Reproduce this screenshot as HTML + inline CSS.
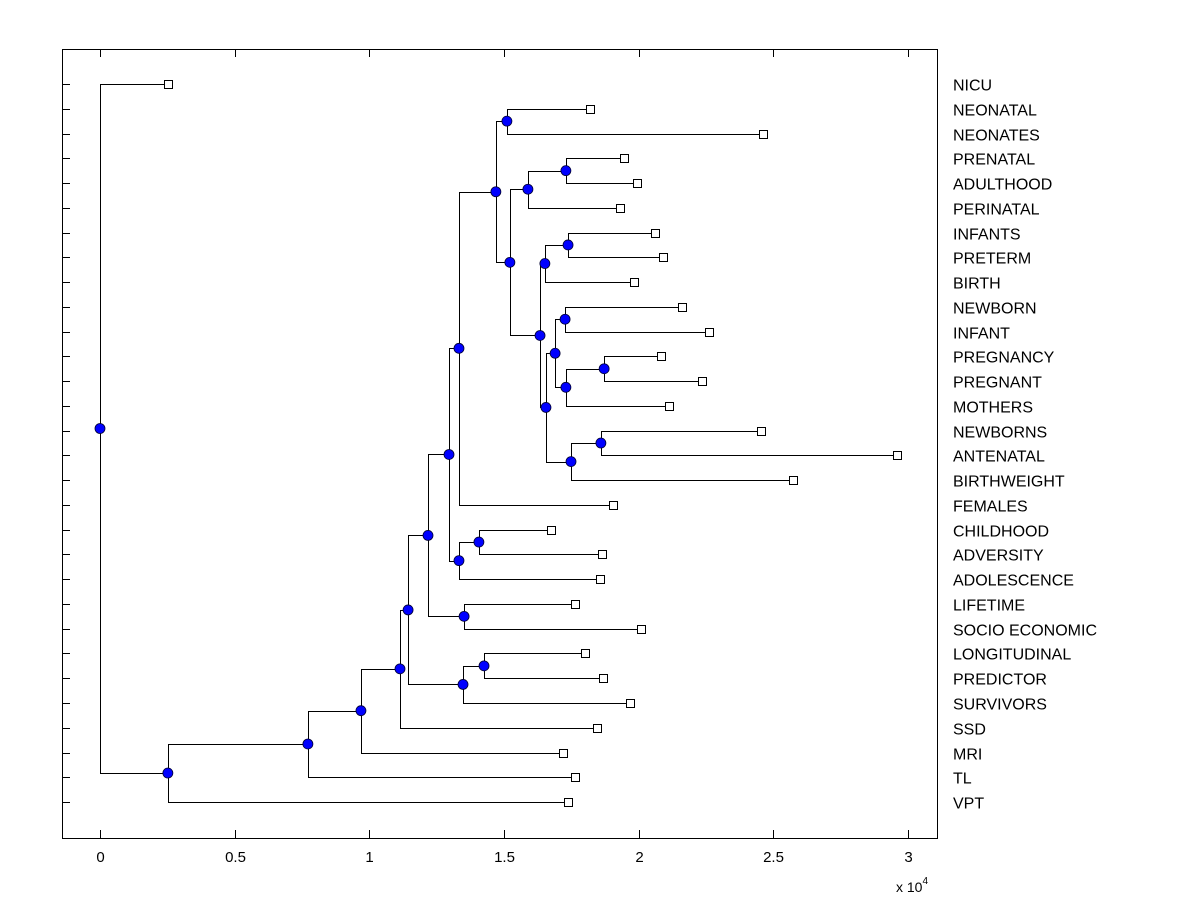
<!DOCTYPE html>
<html><head><meta charset="utf-8"><style>
body{margin:0;background:#fff}
svg{display:block;font-family:"Liberation Sans",Arial,sans-serif}
</style></head><body>
<svg id="chart" width="1200" height="900" xmlns="http://www.w3.org/2000/svg">
<rect x="0" y="0" width="1200" height="900" fill="#fff"/>
<g id="plot"></g>
<text x="896" y="892" font-size="14">x 10<tspan dy="-8" font-size="10">4</tspan></text>
</svg>
<script>
const leafLabels = ["NICU","NEONATAL","NEONATES","PRENATAL","ADULTHOOD","PERINATAL","INFANTS","PRETERM","BIRTH","NEWBORN","INFANT","PREGNANCY","PREGNANT","MOTHERS","NEWBORNS","ANTENATAL","BIRTHWEIGHT","FEMALES","CHILDHOOD","ADVERSITY","ADOLESCENCE","LIFETIME","SOCIO ECONOMIC","LONGITUDINAL","PREDICTOR","SURVIVORS","SSD","MRI","TL","VPT"];
const leafValues = [0.252,1.82,2.462,1.946,1.994,1.931,2.061,2.091,1.983,2.161,2.261,2.083,2.235,2.113,2.455,2.96,2.573,1.905,1.675,1.864,1.857,1.764,2.009,1.801,1.868,1.968,1.846,1.719,1.764,1.738];
// merges: [childA, childB, height]; leaves are 0..29, internal nodes 30+ in merge order
const mergeChildA = [1, 3, 31, 6, 9, 11, 35, 34, 14, 38, 37, 33, 41, 32, 30, 44, 18, 46, 45, 21, 48, 23, 51, 50, 53, 54, 55, 56, 0];
const mergeChildB = [2, 4, 5, 7, 10, 12, 13, 36, 15, 16, 39, 8, 40, 42, 43, 17, 19, 20, 47, 22, 49, 24, 25, 52, 26, 27, 28, 29, 57];
const mergeHeights = [1.511,1.730,1.589,1.738,1.727,1.872,1.730,1.690,1.860,1.749,1.656,1.652,1.634,1.522,1.470,1.333,1.407,1.333,1.296,1.352,1.218,1.426,1.348,1.144,1.114,0.969,0.772,0.252,0];
const xTicks = [0,0.5,1,1.5,2,2.5,3];

const svg = document.getElementById('plot');
const NS = 'http://www.w3.org/2000/svg';
const L=62,R=937,T=49,B=838;
const xs = v => 100 + v*269.3;
const ys = i => 84 + i*24.76;
function mk(tag, attrs){const e=document.createElementNS(NS,tag);for(const k in attrs)e.setAttribute(k,attrs[k]);svg.appendChild(e);return e;}

const frame = mk('rect',{x:L+0.5,y:T+0.5,width:R-L,height:B-T,fill:'none',stroke:'#000','stroke-width':1});



xTicks.forEach(t=>{
  const x=Math.round(xs(t))+0.5;
  const a=mk('line',{x1:x,y1:B,x2:x,y2:B-8,stroke:'#000'});
  
  
  const b=mk('line',{x1:x,y1:T,x2:x,y2:T+8,stroke:'#000'});
  
  
  const tx=mk('text',{x:x,y:862,'font-size':15,'text-anchor':'middle'});
  tx.textContent=String(t);
  
  
});

const nodeX=[], nodeY=[];
leafLabels.forEach((lab,i)=>{
  nodeX[i]=leafValues[i]; nodeY[i]=ys(i);
  const y=Math.round(ys(i))+0.5;
  const tk=mk('line',{x1:L,y1:y,x2:L+8,y2:y,stroke:'#000'});
  
  
  const t=mk('text',{x:953,y:y+6,'font-size':16});
  t.textContent=lab;
  
  
});
const n=leafLabels.length;
mergeHeights.forEach((h,k)=>{
  const a=mergeChildA[k], b=mergeChildB[k];
  nodeX[n+k]=h; nodeY[n+k]=(nodeY[a]+nodeY[b])/2;
});
mergeHeights.forEach((h,k)=>{
  const a=mergeChildA[k], b=mergeChildB[k];
  const px=Math.round(xs(h))+0.5;
  const ya=Math.round(nodeY[a])+0.5, yb=Math.round(nodeY[b])+0.5;
  const ln=mk('path',{d:`M${Math.round(xs(nodeX[a]))+0.5},${ya}H${px}V${yb}H${Math.round(xs(nodeX[b]))+0.5}`,fill:'none',stroke:'#000'});
  
  
});
leafLabels.forEach((lab,i)=>{
  const sq=mk('rect',{x:Math.round(xs(leafValues[i]))-4+0.5,y:Math.round(ys(i))-4+0.5,width:8,height:8,fill:'#fff',stroke:'#000'});
  
  
});
mergeHeights.forEach((h,k)=>{
  const c=mk('circle',{cx:xs(h),cy:nodeY[n+k],r:5,fill:'#0000ff',stroke:'#000033','stroke-width':0.8});
  
  
});
</script>
</body></html>
